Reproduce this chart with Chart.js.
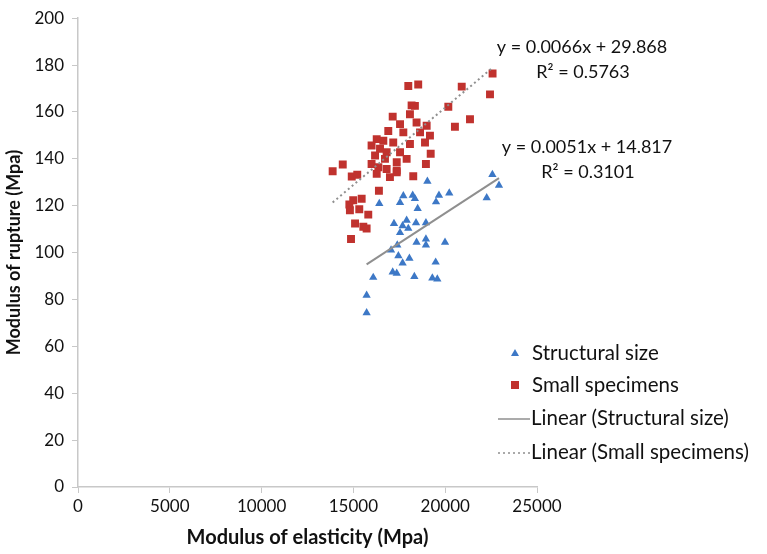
<!DOCTYPE html>
<html><head><meta charset="utf-8">
<script src="https://cdn.jsdelivr.net/npm/chart.js@4/dist/chart.umd.min.js"></script>
<style>html,body{margin:0;padding:0;background:#fff}#wrap{width:767px;height:554px;position:relative}</style>
</head><body><div id="wrap"><canvas id="c" width="767" height="554"></canvas></div>
<script>
// ---- data ----
const seriesNames = ['Structural size', 'Small specimens', 'Linear (Structural size)', 'Linear (Small specimens)'];
const structuralX = [22570,22930,22260,19030,20220,19660,19500,18230,18350,17720,17540,18500,16410,17210,17900,18410,18950,17680,17540,17990,18440,18950,18950,19990,17390,17050,17450,18050,17680,19480,16080,17140,17360,18320,19300,19570,15720,15720];
const structuralY = [133.3,128.7,123.4,130.4,125.4,124.4,121.6,124.4,123.0,124.2,121.3,118.8,120.9,112.4,113.8,112.7,112.7,111.4,108.5,110.3,104.4,105.8,103.2,104.4,103.2,101.1,98.6,97.6,95.5,95.9,89.4,91.7,91.2,89.8,89.1,88.7,81.8,74.3];
const smallX = [22580,22440,20900,21350,20530,20170,17990,18530,18170,18350,18080,17140,17540,18440,18990,16900,17720,18630,19170,16270,16630,17170,18080,18900,15990,16450,16810,17540,19210,16180,16720,17360,17900,18950,15990,16360,16810,17360,16270,16990,17360,18260,13870,14420,14910,15210,16390,14990,15450,14780,14810,15320,15810,15090,15540,15720,14870];
const smallY = [176.4,167.5,170.8,156.9,153.7,162.2,171.1,171.7,162.8,162.6,159.0,158.0,154.8,155.5,154.1,151.9,151.3,151.3,149.9,148.4,147.7,147.0,146.3,147.0,145.7,144.3,142.8,142.8,142.2,141.4,140.0,138.6,140.0,137.8,137.8,136.4,135.7,135.0,133.6,132.2,134.3,132.6,134.7,137.6,132.5,133.2,126.4,122.3,123.0,120.5,118.1,118.5,116.2,112.4,111.0,110.3,105.8];
const fitStructural = [0.0051, 14.817, 0.3101]; // slope, intercept, R²
const fitSmall = [0.0066, 29.868, 0.5763];
const xTickValues = [0, 5000, 10000, 15000, 20000, 25000];
const yTickValues = [0, 20, 40, 60, 80, 100, 120, 140, 160, 180, 200];
const xTitle = 'Modulus of elasticity (Mpa)';
const yTitle = 'Modulus of rupture (Mpa)';

// ---- build ----
const pts = (xs, ys) => xs.map((x, i) => ({x, y: ys[i]}));
const trend = (xs, f) => {
  const lo = Math.min(...xs), hi = Math.max(...xs);
  return [{x: lo, y: f[0]*lo + f[1]}, {x: hi, y: f[0]*hi + f[1]}];
};
const BLUE = '#3d78c6', RED = '#c0322e', GREY = '#8f8f8f';
const FONT = 'Lato, "Open Sans", sans-serif';

const overlay = {
  id: 'overlay',
  afterDraw(chart) {
    const ctx = chart.ctx, a = chart.chartArea;
    ctx.save();
    ctx.fillStyle = '#111';
    ctx.font = '18px ' + FONT;
    ctx.textAlign = 'center';
    ctx.textBaseline = 'middle';
    const eq = (f) => 'y = ' + f[0].toFixed(4) + 'x + ' + f[1].toFixed(3);
    const r2 = (f) => 'R² = ' + f[2].toFixed(4);
    ctx.fillText(eq(fitSmall), a.right + 45, 47);
    ctx.fillText(r2(fitSmall), a.right + 46, 72);
    ctx.fillText(eq(fitStructural), a.right + 50, 147);
    ctx.fillText(r2(fitStructural), a.right + 51, 172);
    // legend
    const lx = a.right - 39, ly = [353, 385, 418, 452];
    ctx.textAlign = 'left';
    ctx.font = '20.5px ' + FONT;
    const ds = chart.data.datasets;
    for (let i = 0; i < 4; i++) {
      const d = ds[i], y = ly[i];
      if (i < 2) {
        ctx.fillStyle = d.backgroundColor;
        ctx.beginPath();
        if (i === 0) { ctx.moveTo(lx+17, y-4); ctx.lineTo(lx+21, y+3); ctx.lineTo(lx+13, y+3); ctx.closePath(); }
        else { ctx.rect(lx+13, y-4, 8, 8); }
        ctx.fill();
      } else {
        ctx.strokeStyle = d.borderColor; ctx.lineWidth = 1.5;
        ctx.setLineDash(d.borderDash || []);
        ctx.beginPath(); ctx.moveTo(lx, y + 1); ctx.lineTo(lx + 32, y + 1); ctx.stroke();
        ctx.setLineDash([]);
      }
      ctx.fillStyle = '#111';
      ctx.fillText(seriesNames[i], lx + (i < 2 ? 34 : 33), y);
    }
    ctx.restore();
  }
};

new Chart(document.getElementById('c'), {
  type: 'scatter',
  data: {
    datasets: [
      {label: seriesNames[0], data: pts(structuralX, structuralY), pointStyle: 'triangle', pointRadius: 4.8, pointHoverRadius: 4.8, backgroundColor: BLUE, borderColor: BLUE, borderWidth: 0, order: 2},
      {label: seriesNames[1], data: pts(smallX, smallY), pointStyle: 'rect', pointRadius: 5.6, pointHoverRadius: 5.6, backgroundColor: RED, borderColor: RED, borderWidth: 0, order: 3},
      {label: seriesNames[2], type: 'line', data: trend(structuralX, fitStructural), borderColor: GREY, backgroundColor: GREY, borderWidth: 2, pointRadius: 0, fill: false, order: 1},
      {label: seriesNames[3], type: 'line', data: trend(smallX, fitSmall), borderColor: GREY, backgroundColor: GREY, borderWidth: 2, borderDash: [2, 3], pointRadius: 0, fill: false, order: 1}
    ]
  },
  options: {
    responsive: false,
    animation: false,
    events: [],
    layout: {padding: {left: 0, right: 230, top: 15, bottom: 0}},
    plugins: {legend: {display: false}, tooltip: {enabled: false}},
    scales: {
      x: {
        type: 'linear', min: 0, max: 25000,
        afterBuildTicks: (s) => { s.ticks = xTickValues.map(v => ({value: v})); },
        afterFit: (s) => { s.height = 67; },
        grid: {drawOnChartArea: false, tickLength: 6, color: '#c8c8c8'},
        border: {color: '#c8c8c8', width: 1.5},
        ticks: {color: '#111', font: {family: FONT, size: 17}, padding: 3, maxRotation: 0, callback: (v) => String(v)},
        title: {display: true, text: xTitle, color: '#111', font: {family: FONT, size: 20, weight: 'bold'}, padding: {top: 2, bottom: 4}}
      },
      y: {
        type: 'linear', min: 0, max: 200,
        afterBuildTicks: (s) => { s.ticks = yTickValues.map(v => ({value: v})); },
        afterFit: (s) => { s.width = 78; },
        grid: {drawOnChartArea: false, tickLength: 6, color: '#c8c8c8'},
        border: {color: '#c8c8c8', width: 1.5},
        ticks: {color: '#111', font: {family: FONT, size: 17}, padding: 8, callback: (v) => String(v)},
        title: {display: true, text: yTitle, color: '#111', font: {family: FONT, size: 18, weight: 'bold'}, padding: {top: 3, bottom: 3}}
      }
    }
  },
  plugins: [overlay]
});
</script>
</body></html>
